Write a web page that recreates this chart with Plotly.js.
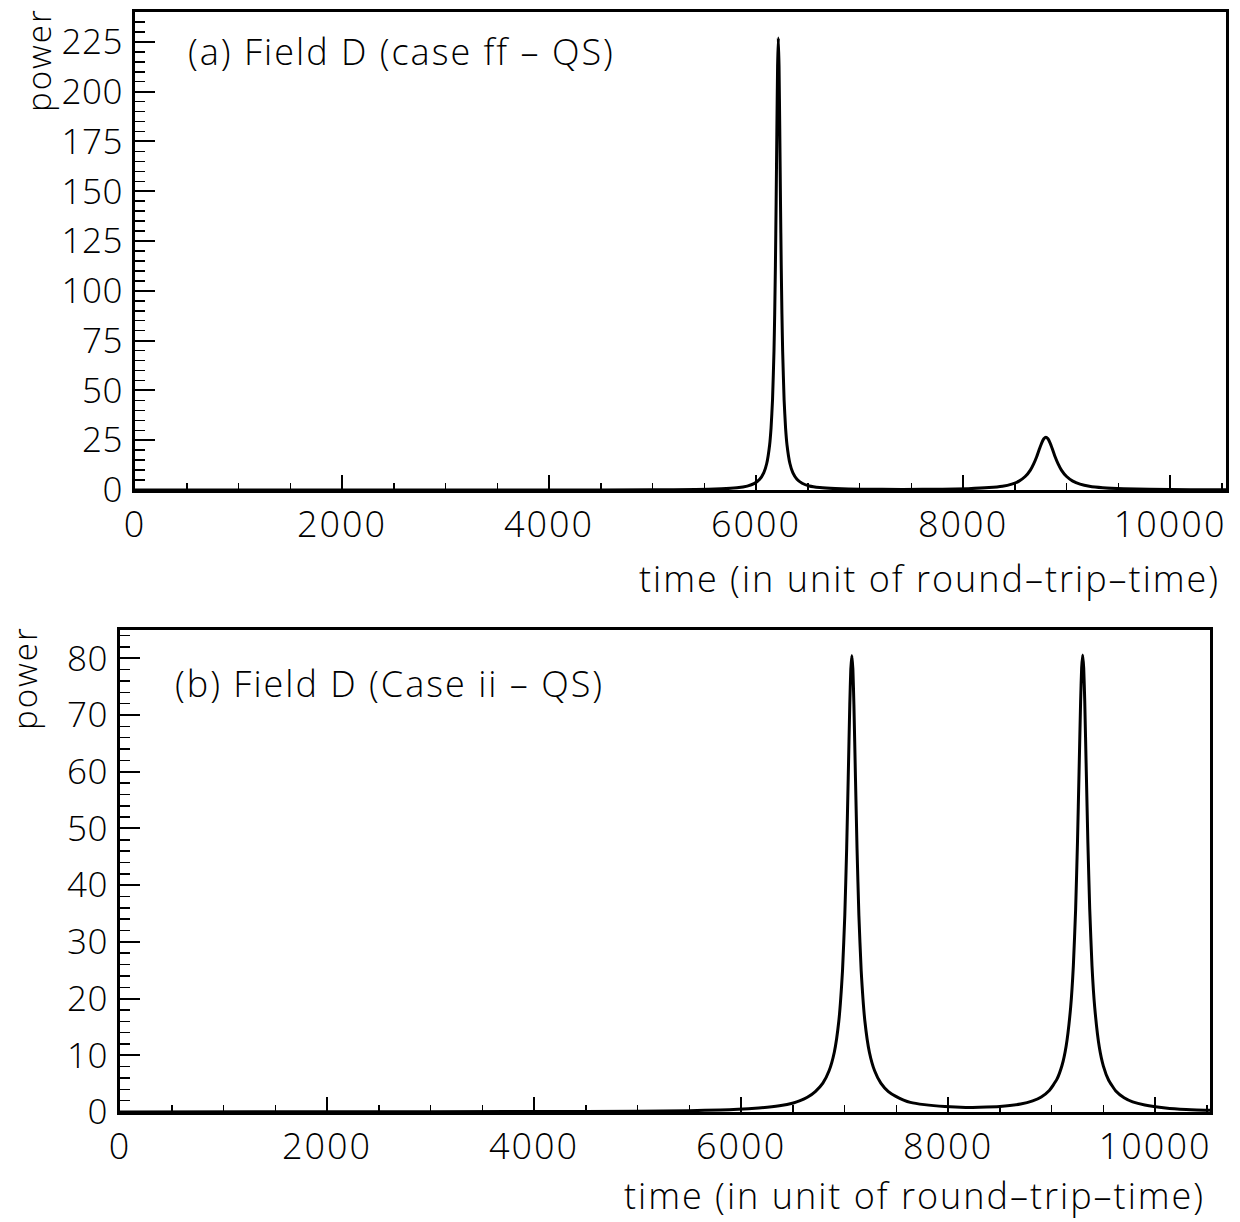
<!DOCTYPE html>
<html>
<head>
<meta charset="utf-8">
<script src="https://cdn.plot.ly/plotly-3.0.1.min.js"></script>
<style>
html,body{margin:0;padding:0;background:#fff;}
#chart{width:1240px;height:1222px;}
svg text{letter-spacing:2px;}
svg g.ytick text, svg g.y2tick text{letter-spacing:0.5px;}
</style>
</head>
<body>
<div id="chart"></div>
<script>
// Panel (a): Field D (case ff - QS)
const topTime = [0, 2000, 4000, 5000, 5415, 5665, 5815, 5915, 5985, 6035, 6075, 6103, 6131, 6145, 6159, 6173, 6180, 6187, 6194, 6201, 6208, 6215, 6222, 6229, 6236, 6243, 6250, 6257, 6271, 6285, 6299, 6327, 6355, 6395, 6445, 6515, 6615, 6765, 7015, 7415, 7800, 8050, 8250, 8380, 8470, 8540, 8600, 8650, 8683, 8710, 8740, 8760, 8780, 8800, 8820, 8840, 8860, 8890, 8917, 8950, 9000, 9060, 9130, 9220, 9350, 9550, 9800, 10200, 10540];
const topPower = [0.01, 0.02, 0.04, 0.07, 0.28, 0.58, 1.1, 1.95, 3.3, 5.34, 8.7, 13.3, 22.6, 31.2, 45.2, 69.5, 88.2, 113, 144.6, 180.8, 212.7, 227, 212.7, 180.8, 144.6, 113, 88.2, 69.5, 45.2, 31.2, 22.6, 13.3, 8.7, 5.34, 3.37, 2.0, 1.2, 0.7, 0.39, 0.31, 0.43, 0.68, 1.2, 1.9, 2.96, 4.46, 6.76, 10.0, 13.25, 16.6, 21.0, 23.7, 25.7, 26.5, 25.7, 23.7, 21.0, 16.6, 13.25, 10.0, 6.76, 4.46, 2.96, 1.9, 1.15, 0.63, 0.36, 0.18, 0.12];

// Panel (b): Field D (Case ii - QS)
const botTime = [0, 2000, 4000, 5000, 5500, 5800, 5970, 6170, 6370, 6505, 6570, 6640, 6717, 6790, 6850, 6900, 6944, 6980, 7002, 7020, 7035, 7050, 7060, 7070, 7080, 7090, 7105, 7120, 7138, 7160, 7196, 7240, 7290, 7350, 7423, 7500, 7570, 7635, 7770, 7970, 8170, 8300, 8500, 8700, 8817, 8900, 8980, 9049, 9100, 9140, 9184, 9210, 9232, 9250, 9265, 9280, 9290, 9300, 9310, 9320, 9335, 9350, 9368, 9390, 9416, 9460, 9500, 9551, 9620, 9700, 9783, 9900, 10100, 10300, 10530];
const botPower = [0.02, 0.04, 0.07, 0.14, 0.23, 0.36, 0.48, 0.7, 1.1, 1.6, 2.0, 2.59, 3.6, 5.08, 7.26, 10.5, 16.0, 25.0, 34.7, 46.5, 58.9, 71.8, 78.1, 80.5, 78.1, 71.8, 58.9, 46.5, 34.7, 25.0, 16.0, 10.5, 7.26, 5.08, 3.6, 2.7, 2.1, 1.7, 1.3, 0.96, 0.8, 0.83, 0.96, 1.4, 1.96, 2.66, 3.85, 5.7, 8.2, 11.6, 18.5, 25.8, 35.8, 47.7, 60.0, 72.4, 78.3, 80.6, 78.3, 72.4, 60.0, 47.7, 35.8, 25.8, 18.5, 11.5, 8.1, 5.6, 3.7, 2.5, 1.78, 1.23, 0.72, 0.45, 0.3];

// Tick labels
const xTicks = [0, 2000, 4000, 6000, 8000, 10000];
const yTicksTop = [0, 25, 50, 75, 100, 125, 150, 175, 200, 225];
const yTicksBot = [0, 10, 20, 30, 40, 50, 60, 70, 80];

// Texts
const panelLabels = ['(a) Field D (case ff – QS)', '(b) Field D (Case ii – QS)'];
const xTitle = 'time (in unit of round–trip–time)';
const yTitle = 'power';

const W = 1240, H = 1222;
const px = v => v / W;
const py = v => 1 - v / H;

const FONT = 'Open Sans, DejaVu Sans, sans-serif';
const xTickFont = {family: FONT, size: 36, color: '#000', weight: 300};
const yTickFont = {family: FONT, size: 35, color: '#000', weight: 300};

function xAxis(domain, range) {
  return {
    domain: domain, range: range, tickvals: xTicks, ticktext: xTicks.map(String),
    ticks: 'inside', ticklen: 15, tickwidth: 2, tickcolor: '#000',
    minor: {dtick: 500, tick0: 0, ticks: 'inside', ticklen: 7, tickwidth: 1.5, tickcolor: '#000', showgrid: false},
    showline: true, linewidth: 3, linecolor: '#000', mirror: true,
    showgrid: false, zeroline: false, tickfont: xTickFont, ticklabelstandoff: 1
  };
}
function yAxis(domain, range, ticks, minorStep) {
  return {
    domain: domain, range: range, tickvals: ticks, ticktext: ticks.map(String),
    ticks: 'inside', ticklen: 20, tickwidth: 2, tickcolor: '#000',
    minor: {dtick: minorStep, tick0: 0, ticks: 'inside', ticklen: 10, tickwidth: 1.5, tickcolor: '#000', showgrid: false},
    showline: true, linewidth: 3, linecolor: '#000', mirror: true,
    showgrid: false, zeroline: false, tickfont: yTickFont, ticklabelstandoff: 2
  };
}

const traces = [
  {x: topTime, y: topPower, xaxis: 'x', yaxis: 'y', mode: 'lines', line: {color: '#000', width: 3, shape: 'spline', smoothing: 0.4}, hoverinfo: 'skip'},
  {x: botTime, y: botPower, xaxis: 'x2', yaxis: 'y2', mode: 'lines', line: {color: '#000', width: 3, shape: 'spline', smoothing: 0.4}, hoverinfo: 'skip'}
];

const annFont = {family: FONT, size: 36, color: '#000', weight: 300};
const powFont = {family: FONT, size: 33, color: '#000', weight: 300};
const layout = {
  width: W, height: H, margin: {l: 0, r: 0, t: 0, b: 0},
  paper_bgcolor: '#fff', plot_bgcolor: '#fff', showlegend: false,
  xaxis: xAxis([px(135), px(1226)], [0, 10540]),
  yaxis: Object.assign(yAxis([py(490), py(12)], [0, 240], yTicksTop, 5), {anchor: 'x'}),
  xaxis2: Object.assign(xAxis([px(120), px(1210)], [0, 10530]), {anchor: 'y2'}),
  yaxis2: Object.assign(yAxis([py(1112), py(630)], [0, 85], yTicksBot, 2), {anchor: 'x2'}),
  annotations: [
    {text: panelLabels[0], xref: 'paper', yref: 'paper', x: px(186), y: py(52), xanchor: 'left', yanchor: 'middle', showarrow: false, font: annFont},
    {text: panelLabels[1], xref: 'paper', yref: 'paper', x: px(173), y: py(683), xanchor: 'left', yanchor: 'middle', showarrow: false, font: annFont},
    {text: yTitle, xref: 'paper', yref: 'paper', x: px(38), y: py(60), xanchor: 'center', yanchor: 'middle', textangle: -90, showarrow: false, font: powFont},
    {text: yTitle, xref: 'paper', yref: 'paper', x: px(24), y: py(678), xanchor: 'center', yanchor: 'middle', textangle: -90, showarrow: false, font: powFont},
    {text: xTitle, xref: 'paper', yref: 'paper', x: px(1222), y: py(578), xanchor: 'right', yanchor: 'middle', showarrow: false, font: annFont},
    {text: xTitle, xref: 'paper', yref: 'paper', x: px(1207), y: py(1195), xanchor: 'right', yanchor: 'middle', showarrow: false, font: annFont}
  ]
};

Plotly.newPlot('chart', traces, layout, {staticPlot: true, displayModeBar: false});
</script>
</body>
</html>
